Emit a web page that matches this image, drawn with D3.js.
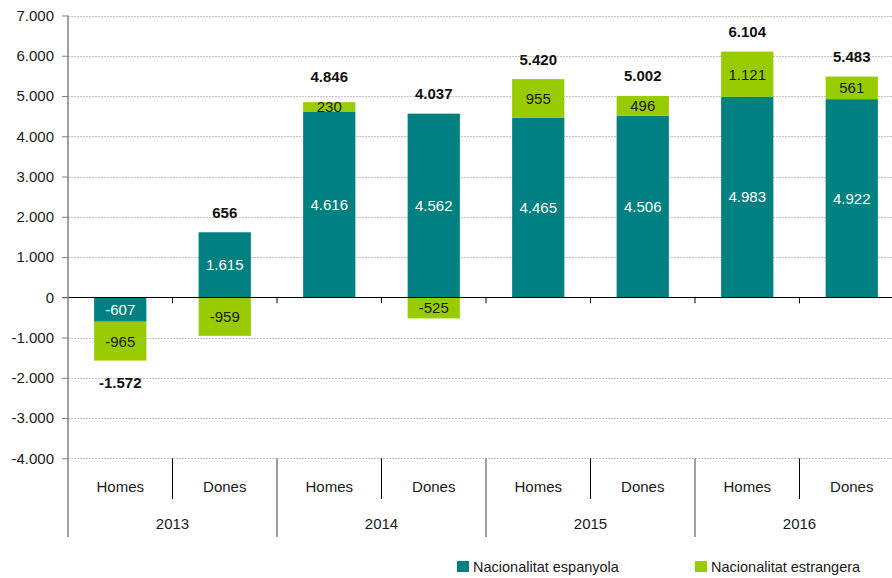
<!DOCTYPE html>
<html>
<head>
<meta charset="utf-8">
<script src="https://cdn.jsdelivr.net/npm/d3@7"></script>
<style>
  html, body { margin: 0; padding: 0; background: #fff; }
  svg { display: block; font-family: "Liberation Sans", Arial, sans-serif; }
</style>
</head>
<body>
<svg id="chart" width="892" height="578"></svg>
<script>
const years = ["2013", "2014", "2015", "2016"];
const sexes = ["Homes", "Dones"];
const espanyola = [-607, 1615, 4616, 4562, 4465, 4506, 4983, 4922];
const estrangera = [-965, -959, 230, -525, 955, 496, 1121, 561];
const totals = [-1572, 656, 4846, 4037, 5420, 5002, 6104, 5483];
const yTicks = [-4000, -3000, -2000, -1000, 0, 1000, 2000, 3000, 4000, 5000, 6000, 7000];
const seriesNames = ["Nacionalitat espanyola", "Nacionalitat estrangera"];
const colors = ["#008080", "#99cc00"];

const locale = d3.formatLocale({decimal: ",", thousands: ".", grouping: [3], currency: ["", " €"], minus: "-"});
const fmt = locale.format(",d");

const cats = [];
years.forEach(yr => sexes.forEach(s => cats.push(yr + "|" + s)));
const rows = cats.map((c, i) => ({key: c, esp: espanyola[i], est: estrangera[i], total: totals[i]}));

const svg = d3.select("#chart");
const mLeft = 68, mRight = 904, mTop = 15.5, mBottom = 458.3;
const W = 892;

const x = d3.scaleBand().domain(cats).range([mLeft, mRight]).paddingInner(0.5).paddingOuter(0.25);
const step = x.step();
const y = d3.scaleLinear().domain([-4000, 7000]).range([mBottom, mTop]);

// gridlines
svg.append("g").selectAll("line").data(yTicks.filter(d => d !== 0)).join("line")
  .attr("x1", mLeft).attr("x2", W)
  .attr("y1", d => Math.round(y(d)) + 0.5).attr("y2", d => Math.round(y(d)) + 0.5)
  .attr("stroke", "#c4c4c4").attr("stroke-width", 1).attr("stroke-dasharray", "2,1");

// stacked bars
const stack = d3.stack().keys(["esp", "est"]).offset(d3.stackOffsetDiverging);
const stacked = stack(rows);

const gBars = svg.append("g");
stacked.forEach((layer, li) => {
  gBars.append("g").selectAll("rect").data(layer).join("rect")
    .attr("x", d => x(d.data.key))
    .attr("width", x.bandwidth())
    .attr("y", d => y(Math.max(d[0], d[1])))
    .attr("height", d => Math.abs(y(d[0]) - y(d[1])))
    .attr("fill", colors[li]);
});

// zero line
svg.append("line").attr("x1", mLeft - 6).attr("x2", W)
  .attr("y1", Math.round(y(0)) + 0.5).attr("y2", Math.round(y(0)) + 0.5)
  .attr("stroke", "#000").attr("stroke-width", 1);
// zero-line ticks at category boundaries
svg.append("g").selectAll("line").data(d3.range(1, cats.length + 1)).join("line")
  .attr("x1", i => mLeft + i * step).attr("x2", i => mLeft + i * step)
  .attr("y1", y(0)).attr("y2", y(0) + 6)
  .attr("stroke", "#000").attr("stroke-width", 1);

// y axis
const yAxis = d3.axisLeft(y).tickValues(yTicks).tickFormat(fmt).tickSize(6).tickPadding(8);
const gy = svg.append("g").attr("transform", `translate(${mLeft},0)`).call(yAxis);
gy.select(".domain").remove();
gy.selectAll(".tick line").attr("stroke", "#808080");
gy.selectAll(".tick text").attr("font-size", 15).attr("fill", "#1a1a1a")
  .attr("font-family", "Liberation Sans, Arial, sans-serif");
svg.append("line").attr("x1", mLeft).attr("x2", mLeft).attr("y1", mTop).attr("y2", 537)
  .attr("stroke", "#808080").attr("stroke-width", 1.5);

// bar value labels
stacked.forEach((layer, li) => {
  svg.append("g").selectAll("text").data(layer).join("text")
    .attr("x", d => x(d.data.key) + x.bandwidth() / 2)
    .attr("y", d => (y(d[0]) + y(d[1])) / 2)
    .attr("dy", "0.36em")
    .attr("text-anchor", "middle")
    .attr("font-size", 15)
    .attr("fill", li === 0 ? "#ffffff" : "#1a1a1a")
    .text(d => fmt(d.data[li === 0 ? "esp" : "est"]));
});

// totals
svg.append("g").selectAll("text").data(rows).join("text")
  .attr("x", d => x(d.key) + x.bandwidth() / 2)
  .attr("y", d => {
    if (d.total < 0) {
      const lo = (d.esp < 0 ? d.esp : 0) + (d.est < 0 ? d.est : 0);
      return y(lo) + 22;
    }
    const hi = (d.esp > 0 ? d.esp : 0) + (d.est > 0 ? d.est : 0);
    const topSegPx = d.est > 0 ? Math.abs(y(0) - y(d.est)) : 99;
    return y(hi) - (topSegPx < 16 ? 26 : 20);
  })
  .attr("dy", "0.36em")
  .attr("text-anchor", "middle")
  .attr("font-size", 15).attr("font-weight", "bold").attr("fill", "#111")
  .text(d => fmt(d.total));

// bottom category axis
const gx = svg.append("g");
gx.selectAll("text.sex").data(cats).join("text").attr("class", "sex")
  .attr("x", d => x(d) + x.bandwidth() / 2).attr("y", 487).attr("dy", "0.36em")
  .attr("text-anchor", "middle").attr("font-size", 15).attr("fill", "#1a1a1a")
  .text(d => d.split("|")[1]);
gx.selectAll("text.year").data(years).join("text").attr("class", "year")
  .attr("x", (d, i) => mLeft + (2 * i + 1) * step).attr("y", 524).attr("dy", "0.36em")
  .attr("text-anchor", "middle").attr("font-size", 15).attr("fill", "#1a1a1a")
  .text(d => d);
// separators
gx.selectAll("line.sub").data(years).join("line").attr("class", "sub")
  .attr("x1", (d, i) => mLeft + (2 * i + 1) * step).attr("x2", (d, i) => mLeft + (2 * i + 1) * step)
  .attr("y1", mBottom).attr("y2", 499).attr("stroke", "#000").attr("stroke-width", 1);
gx.selectAll("line.yr").data(d3.range(1, years.length + 1)).join("line").attr("class", "yr")
  .attr("x1", i => mLeft + 2 * i * step).attr("x2", i => mLeft + 2 * i * step)
  .attr("y1", mBottom).attr("y2", 537).attr("stroke", "#808080").attr("stroke-width", 1.5);

// legend
const legendX = [457, 695];
const lg = svg.append("g");
seriesNames.forEach((name, i) => {
  lg.append("rect").attr("x", legendX[i]).attr("y", 561).attr("width", 12).attr("height", 11).attr("fill", colors[i]);
  lg.append("text").attr("x", legendX[i] + 16).attr("y", 567).attr("dy", "0.36em")
    .attr("font-size", 14.5).attr("fill", "#1a1a1a").text(name);
});
</script>
</body>
</html>
